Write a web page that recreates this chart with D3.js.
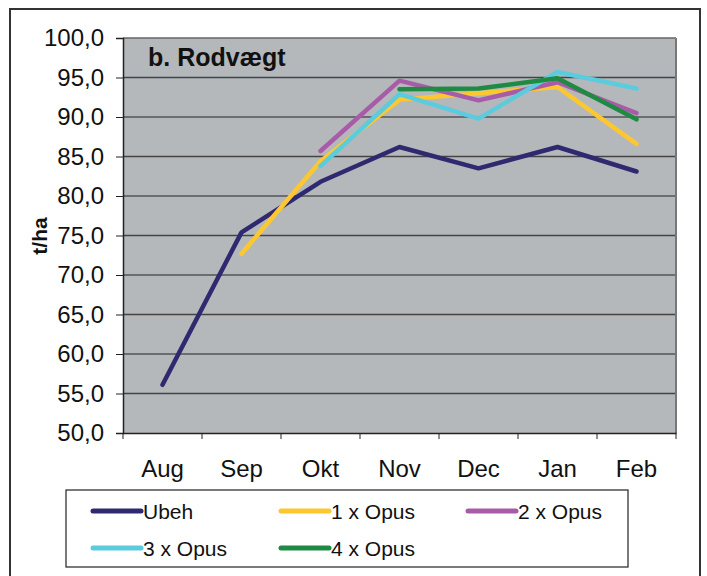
<!DOCTYPE html>
<html><head><meta charset="utf-8">
<script src="https://cdn.jsdelivr.net/npm/d3@7"></script>
<style>body{margin:0;background:#fff}svg{display:block}</style>
</head><body>
<svg id="c" width="707" height="576"></svg>
<script>
const months = ["Aug","Sep","Okt","Nov","Dec","Jan","Feb"];
const yTicks = [50,55,60,65,70,75,80,85,90,95,100];
const seriesNames = ["Ubeh","1 x Opus","2 x Opus","3 x Opus","4 x Opus"];
const seriesColors = ["#2f2a70","#fdc82f","#a85ca8","#5ccbdd","#1f8a42"];
const ubeh  = [56.1,75.4,81.8,86.2,83.5,86.2,83.1];
const opus1 = [null,72.7,84.4,92.2,93.0,93.8,86.6];
const opus2 = [null,null,85.7,94.6,92.1,94.4,90.5];
const opus3 = [null,null,83.8,92.9,89.8,95.7,93.6];
const opus4 = [null,null,null,93.5,93.6,94.9,89.7];
const seriesValues = [ubeh,opus1,opus2,opus3,opus4];

const svg = d3.select("#c");
const font = "Liberation Sans, Arial, Helvetica, sans-serif";
const L = 123, R = 676, T = 38, B = 433;

// outer border
svg.append("rect").attr("x",10).attr("y",9).attr("width",690).attr("height",580)
  .attr("fill","none").attr("stroke","#333").attr("stroke-width",2);

const x = d3.scaleBand().domain(months).range([L,R]);
const y = d3.scaleLinear().domain([50,100]).range([B,T]);

svg.append("rect").attr("x",L).attr("y",T).attr("width",R-L).attr("height",B-T).attr("fill","#b5b8bb");

// gridlines
svg.append("g").selectAll("line").data(yTicks.filter(d=>d>50)).join("line")
  .attr("x1",L).attr("x2",R).attr("y1",d=>y(d)).attr("y2",d=>y(d))
  .attr("stroke",(d,i)=>i%2?"#222":"#444").attr("stroke-width",(d,i)=>i%2?1:1.5);

// plot border left/right
svg.append("line").attr("x1",R).attr("x2",R).attr("y1",T).attr("y2",B).attr("stroke","#777").attr("stroke-width",2);
svg.append("line").attr("x1",L).attr("x2",R).attr("y1",T).attr("y2",T).attr("stroke","#888").attr("stroke-width",1);

// y axis
const ya = svg.append("g").attr("transform",`translate(${L},0)`)
  .call(d3.axisLeft(y).tickValues(yTicks).tickSize(7).tickPadding(12)
    .tickFormat(d=>d3.format(".1f")(d).replace(".",",")));
ya.select(".domain").attr("stroke","#222").attr("stroke-width",1.5);
ya.selectAll(".tick line").attr("stroke","#222");
ya.selectAll("text").attr("font-family",font).attr("font-size",24).attr("fill","#111");

// x axis
const xa = svg.append("g").attr("transform",`translate(0,${B})`)
  .call(d3.axisBottom(x).tickSize(0).tickPadding(27));
xa.select(".domain").attr("stroke","#222").attr("stroke-width",1.5);
xa.selectAll("text").attr("font-family",font).attr("font-size",24).attr("fill","#111");
xa.append("g").selectAll("line").data(months.concat(["_end"])).join("line")
  .attr("x1",(d,i)=>L+i*x.step()).attr("x2",(d,i)=>L+i*x.step())
  .attr("y1",0).attr("y2",6).attr("stroke","#222");

// y title
svg.append("text").attr("transform","translate(47,236) rotate(-90)")
  .attr("text-anchor","middle").attr("font-family",font).attr("font-weight","bold")
  .attr("font-size",21).attr("fill","#111").text("t/ha");

// chart title
svg.append("text").attr("x",148).attr("y",66).attr("font-family",font).attr("font-weight","bold")
  .attr("font-size",25).attr("fill","#111").text("b. Rodvægt");

// lines
const line = d3.line().defined(d=>d!=null)
  .x((d,i)=>x(months[i])+x.bandwidth()/2).y(d=>y(d));
svg.append("g").selectAll("path").data(seriesValues).join("path")
  .attr("d",d=>line(d)).attr("fill","none")
  .attr("stroke",(d,i)=>seriesColors[i]).attr("stroke-width",4.5)
  .attr("stroke-linecap","round").attr("stroke-linejoin","round");

// legend
svg.append("rect").attr("x",66).attr("y",490).attr("width",562).attr("height",77)
  .attr("fill","#fff").attr("stroke","#222").attr("stroke-width",1.2);
const legX = [93,281,468], legY = [511,548];
const lg = svg.append("g").selectAll("g").data(seriesNames).join("g")
  .attr("transform",(d,i)=>`translate(${legX[i%3]},${legY[Math.floor(i/3)]})`);
lg.append("line").attr("x1",0).attr("x2",48).attr("stroke",(d,i)=>seriesColors[i])
  .attr("stroke-width",5).attr("stroke-linecap","round");
lg.append("text").attr("x",50).attr("y",7.5).attr("font-family",font).attr("font-size",21)
  .attr("fill","#111").text(d=>d);
</script>
</body></html>
